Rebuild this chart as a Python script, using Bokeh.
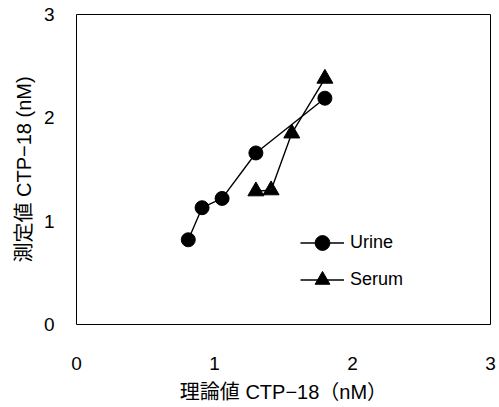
from bokeh.plotting import figure
from bokeh.models import Range1d, FixedTicker, Legend, LegendItem
from bokeh.embed import file_html
from bokeh.resources import INLINE

# data
urine_x = [0.81, 0.91, 1.055, 1.30, 1.80]
urine_y = [0.82, 1.13, 1.22, 1.66, 2.19]
serum_x = [1.30, 1.41, 1.56, 1.80]
serum_y = [1.29, 1.30, 1.85, 2.38]
ticks = [0, 1, 2, 3]
x_label = "理論値 CTP−18（nM）"
y_label = "測定値 CTP−18 (nM)"

FONT = "'Liberation Sans', 'Noto Sans CJK JP', sans-serif"

p = figure(width=499, height=407, output_backend="svg", toolbar_location=None,
           x_range=Range1d(0, 3), y_range=Range1d(0, 3),
           min_border_left=76, min_border_top=14, min_border_right=9, min_border_bottom=83)

p.grid.visible = False
p.outline_line_color = "black"
p.outline_line_width = 1
p.background_fill_color = "white"
p.border_fill_color = "white"

for ax in (p.xaxis, p.yaxis):
    ax.ticker = FixedTicker(ticks=ticks)
    ax.axis_line_color = None
    ax.major_tick_line_color = None
    ax.minor_tick_line_color = None
    ax.major_label_text_font = FONT
    ax.major_label_text_font_size = "19px"
    ax.major_label_text_color = "black"
    ax.axis_label_text_font = FONT
    ax.axis_label_text_font_size = "20px"
    ax.axis_label_text_font_style = "normal"
    ax.axis_label_text_color = "black"

p.xaxis.axis_label = x_label
p.yaxis.axis_label = y_label
p.xaxis.major_label_standoff = 26
p.yaxis.major_label_standoff = 16
p.xaxis.axis_label_standoff = 8
p.yaxis.axis_label_standoff = 6

ul = p.line(urine_x, urine_y, line_color="black", line_width=1.4)
um = p.scatter(urine_x, urine_y, marker="circle", size=14, fill_color="black", line_color="black")
sl = p.line(serum_x, serum_y, line_color="black", line_width=1.4)
sm = p.scatter(serum_x, serum_y, marker="triangle", size=16, fill_color="black", line_color="black")

legend = Legend(items=[LegendItem(label="Urine", renderers=[ul, um]),
                       LegendItem(label="Serum", renderers=[sl, sm])],
                location=(224, 26), padding=0, margin=0, spacing=0,
                glyph_width=44, glyph_height=37, label_height=37, label_standoff=6,
                border_line_color=None, background_fill_alpha=0,
                label_text_font=FONT, label_text_font_size="18px", label_text_color="black")
p.add_layout(legend, "center")

open("out.html", "w").write(file_html(p, INLINE))
